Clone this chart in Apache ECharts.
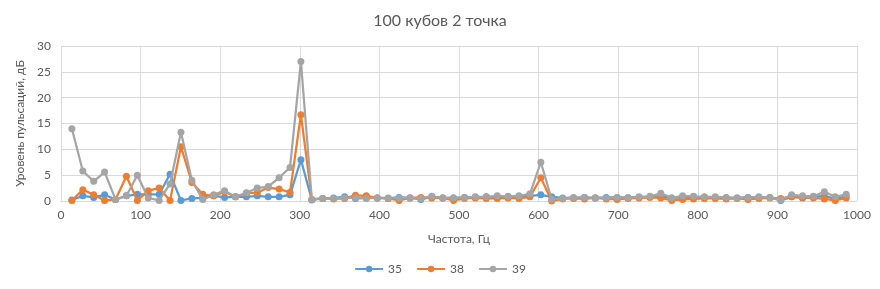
<!DOCTYPE html>
<html><head><meta charset="utf-8">
<script src="https://cdn.jsdelivr.net/npm/echarts@6/dist/echarts.min.js"></script>
<style>html,body{margin:0;padding:0;background:#fff}#c{width:880px;height:289px}</style>
</head><body><div id="c"></div>
<script>
const titleText = "100 кубов 2 точка";
const xName = "Частота, Гц";
const yName = "Уровень пульсаций, дБ";
const seriesNames = ["35", "38", "39"];
const freqs = [13.7, 27.4, 41.1, 54.8, 68.5, 82.2, 95.9, 109.6, 123.3, 137, 150.7, 164.4, 178.1, 191.8, 205.5, 219.2, 232.9, 246.6, 260.3, 274, 287.7, 301.4, 315.1, 328.8, 342.5, 356.2, 369.9, 383.6, 397.3, 411, 424.7, 438.4, 452.1, 465.8, 479.5, 493.2, 506.9, 520.6, 534.3, 548, 561.7, 575.4, 589.1, 602.8, 616.5, 630.2, 643.9, 657.6, 671.3, 685, 698.7, 712.4, 726.1, 739.8, 753.5, 767.2, 780.9, 794.6, 808.3, 822, 835.7, 849.4, 863.1, 876.8, 890.5, 904.2, 917.9, 931.6, 945.3, 959, 972.7, 986.4];
const s35 = [0.2, 1.0, 0.7, 1.2, 0.3, 1.0, 1.3, 1.3, 1.3, 5.2, 0.1, 0.5, 0.6, 1.0, 0.7, 0.8, 0.8, 1.0, 0.8, 0.8, 1.2, 8.0, 0.2,
  0.5, 0.6, 0.8, 0.5, 0.6, 0.6, 0.5, 0.7, 0.6, 0.3, 0.8, 0.6, 0.6, 0.7, 0.7, 0.8, 0.7, 0.8, 0.8, 1.0, 1.2, 0.8, 0.6, 0.6, 0.7, 0.6, 0.7, 0.7, 0.6, 0.7, 0.8, 0.9, 0.6, 0.7, 0.8, 0.7, 0.7, 0.6, 0.6, 0.7, 0.7, 0.7, 0.1, 0.8, 0.6, 0.8, 1.0, 0.4, 0.9];
const s38 = [0.1, 2.2, 1.2, 0.1, 0.3, 4.8, 0.1, 2.0, 2.5, 0.1, 10.5, 3.6, 1.3, 1.0, 1.8, 0.8, 1.5, 1.6, 2.6, 2.3, 1.7, 16.7, 0.3,
  0.5, 0.4, 0.5, 1.1, 1.0, 0.6, 0.5, 0.1, 0.6, 0.7, 0.6, 0.6, 0.1, 0.5, 0.6, 0.5, 0.5, 0.6, 0.5, 0.8, 4.5, 0.0, 0.4, 0.5, 0.4, 0.6, 0.4, 0.3, 0.5, 0.6, 0.7, 0.6, 0.1, 0.3, 0.4, 0.5, 0.5, 0.4, 0.5, 0.3, 0.5, 0.6, 0.5, 0.8, 0.7, 0.6, 0.4, 0.1, 0.6];
const s39 = [14.0, 5.8, 3.8, 5.6, 0.3, 1.0, 5.0, 0.6, 0.1, 3.3, 13.3, 4.0, 0.3, 1.2, 2.0, 0.8, 1.6, 2.5, 2.8, 4.5, 6.5, 27.0, 0.3,
  0.5, 0.5, 0.6, 0.6, 0.5, 0.6, 0.6, 0.6, 0.6, 0.5, 0.9, 0.6, 0.6, 0.7, 0.8, 0.8, 1.0, 0.9, 1.0, 1.4, 7.5, 0.3, 0.5, 0.7, 0.7, 0.6, 0.6, 0.7, 0.7, 0.8, 0.9, 1.5, 0.6, 1.0, 0.9, 0.8, 0.8, 0.7, 0.6, 0.7, 0.8, 0.7, 0.2, 1.2, 1.0, 0.9, 1.8, 0.8, 1.3];
const colors = ["#5B9BD5", "#ED7D31", "#A5A5A5"];

const font = "Lato, 'Open Sans', sans-serif";
const txt = "#595959";
const chart = echarts.init(document.getElementById('c'), null, {renderer: 'canvas'});
const mk = (name, vals, i) => ({
  name: name, type: 'line',
  data: freqs.map((f, j) => [f, vals[j]]),
  symbol: 'circle', symbolSize: 7, showSymbol: true,
  lineStyle: {width: 2.25, color: colors[i]},
  itemStyle: {color: colors[i]},
  z: 2 + i, animation: false
});
chart.setOption({
  animation: false,
  color: colors,
  title: {text: titleText, left: 'center', top: 8,
    textStyle: {fontFamily: font, fontSize: 16, fontWeight: 'normal', color: txt}},
  legend: {data: seriesNames, bottom: 9, left: 'center', itemWidth: 28, itemHeight: 8, itemGap: 14,
    textStyle: {fontFamily: font, fontSize: 12, color: txt}},
  grid: {left: 61, right: 23, top: 46, bottom: 88, containLabel: false},
  xAxis: {type: 'value', min: 0, max: 1000, interval: 100,
    name: xName, nameLocation: 'middle', nameGap: 32,
    nameTextStyle: {fontFamily: font, fontSize: 12, color: txt},
    axisLine: {show: true, lineStyle: {color: '#D9D9D9'}},
    axisTick: {show: false},
    axisLabel: {fontFamily: font, fontSize: 12, color: txt, margin: 8, formatter: v => String(v)},
    splitLine: {show: true, lineStyle: {color: '#D9D9D9'}}},
  yAxis: {type: 'value', min: 0, max: 30, interval: 5,
    name: yName, nameLocation: 'middle', nameGap: 35, nameRotate: 90,
    nameTextStyle: {fontFamily: font, fontSize: 12, color: txt},
    axisLine: {show: false}, axisTick: {show: false},
    axisLabel: {fontFamily: font, fontSize: 12, color: txt, margin: 10, formatter: v => String(v)},
    splitLine: {show: true, lineStyle: {color: '#D9D9D9'}}},
  series: [mk(seriesNames[0], s35, 0), mk(seriesNames[1], s38, 1), mk(seriesNames[2], s39, 2)]
});
</script></body></html>
